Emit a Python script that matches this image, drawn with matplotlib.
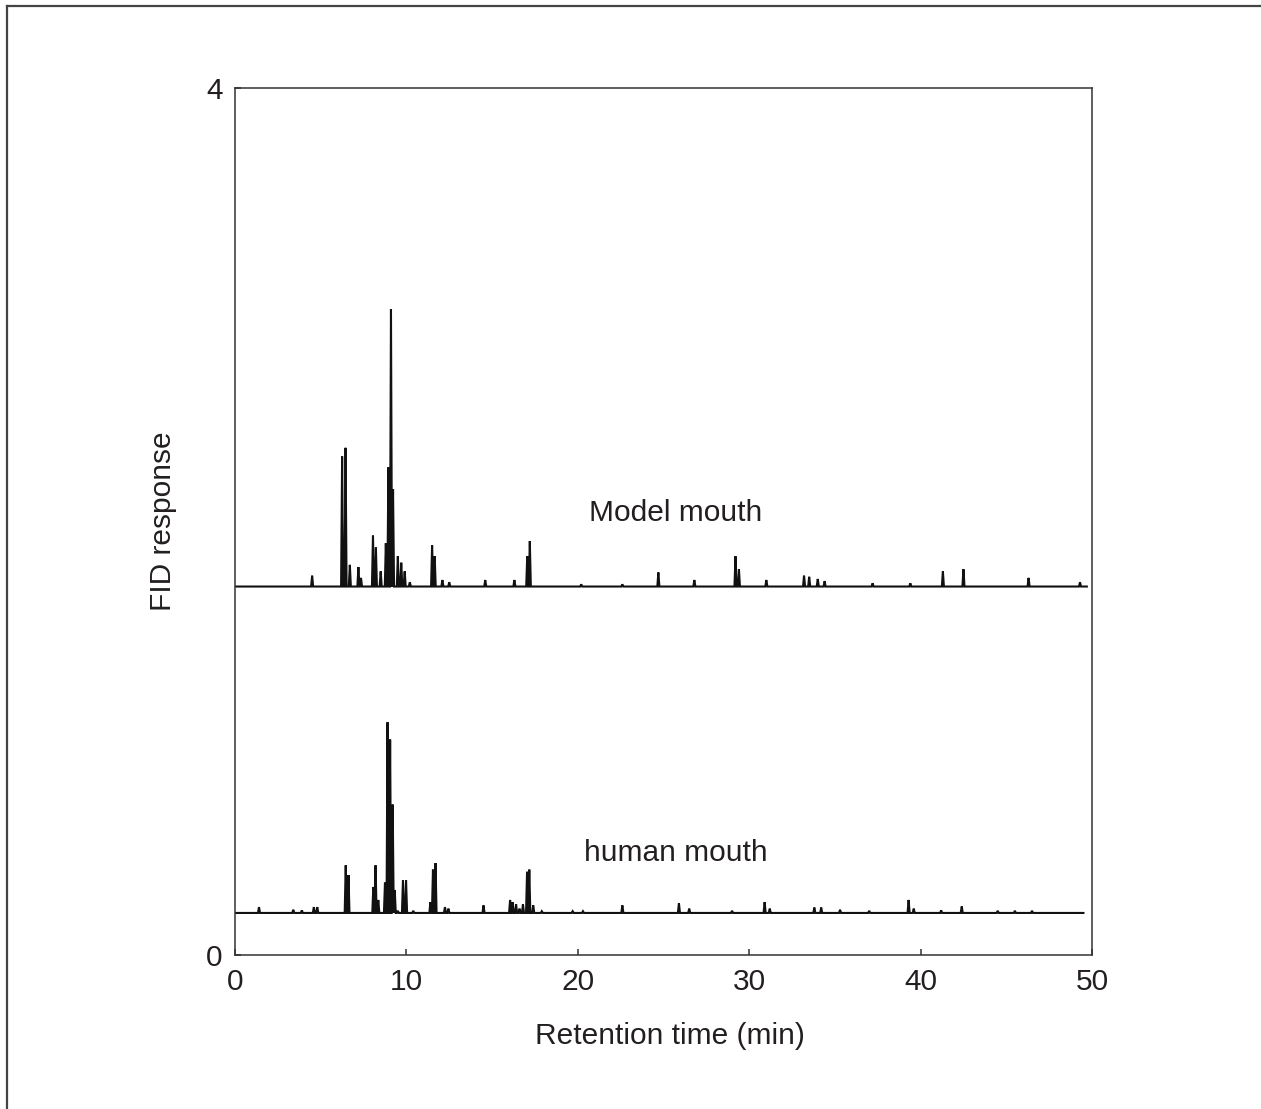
import matplotlib
matplotlib.use('Agg')
import matplotlib.pyplot as plt
from matplotlib.lines import Line2D

# Peak lists (retention time in min, height above baseline)
model_baseline = 1.70
model_times = [4.5, 6.25, 6.45, 6.7, 7.2, 7.35, 8.05, 8.22, 8.5, 8.8, 8.95, 9.1, 9.22,
               9.5, 9.7, 9.9, 10.2, 11.5, 11.65, 12.1, 12.5, 14.6, 16.3, 17.05, 17.2,
               20.2, 22.6, 24.7, 26.8, 29.2, 29.4, 31.0, 33.2, 33.5, 34.0, 34.4, 37.2,
               39.4, 41.3, 42.5, 46.3, 49.3]
model_heights = [0.05, 0.60, 0.64, 0.10, 0.09, 0.04, 0.235, 0.18, 0.07, 0.20, 0.55, 1.28, 0.45,
                 0.14, 0.11, 0.07, 0.02, 0.19, 0.14, 0.03, 0.02, 0.03, 0.03, 0.14, 0.21,
                 0.01, 0.01, 0.065, 0.03, 0.14, 0.08, 0.03, 0.05, 0.045, 0.035, 0.025, 0.015,
                 0.015, 0.07, 0.08, 0.04, 0.02]
model_end = 49.7

human_baseline = 0.194
human_times = [1.4, 3.4, 3.9, 4.6, 4.8, 6.46, 6.62, 8.07, 8.2, 8.36, 8.75, 8.9, 9.05, 9.2,
               9.32, 9.5, 9.8, 9.98, 10.4, 11.4, 11.55, 11.7, 12.25, 12.45, 14.5, 16.05,
               16.2, 16.4, 16.6, 16.8, 17.04, 17.17, 17.4, 17.9, 19.7, 20.3, 22.6, 25.9,
               26.5, 29.0, 30.9, 31.2, 33.8, 34.2, 35.3, 37.0, 39.3, 39.6, 41.2, 42.4,
               44.5, 45.5, 46.5]
human_heights = [0.027, 0.015, 0.012, 0.027, 0.027, 0.22, 0.175, 0.12, 0.22, 0.06, 0.14, 0.88,
                 0.80, 0.50, 0.106, 0.01, 0.15, 0.15, 0.01, 0.05, 0.20, 0.23, 0.027, 0.02,
                 0.035, 0.06, 0.05, 0.04, 0.02, 0.04, 0.19, 0.20, 0.035, 0.008, 0.008, 0.008,
                 0.035, 0.045, 0.02, 0.01, 0.05, 0.02, 0.025, 0.025, 0.015, 0.01, 0.06, 0.02,
                 0.012, 0.03, 0.01, 0.01, 0.01]
human_end = 49.5

labels = ["Model mouth", "human mouth"]
x_ticks = [0, 10, 20, 30, 40, 50]
y_ticks = [0, 4]

TXT = '#231f20'
plt.rcParams['font.family'] = ['Liberation Sans', 'DejaVu Sans']


def build_trace(base, times, heights, t_end, hw=0.06):
    """Turn a peak list into a spiky trace over a flat baseline."""
    xs, ys = [0.0], [base]
    for t, h in zip(times, heights):
        xs += [t - hw, t, t + hw]
        ys += [base, base + h, base]
    xs.append(t_end)
    ys.append(base)
    return xs, ys


fig = plt.figure(figsize=(12.61, 11.09), dpi=100)
ax = fig.add_axes([235 / 1261, 1 - 955 / 1109, 857 / 1261, 867 / 1109])

mx, my = build_trace(model_baseline, model_times, model_heights, model_end)
hx, hy = build_trace(human_baseline, human_times, human_heights, human_end)
ax.plot(mx, my, color='#111111', lw=1.5, solid_joinstyle='miter')
ax.plot(hx, hy, color='#111111', lw=1.5, solid_joinstyle='miter')

ax.text(25.7, 2.04, labels[0], fontsize=21.5, color=TXT, ha='center', va='center')
ax.text(25.7, 0.47, labels[1], fontsize=21.5, color=TXT, ha='center', va='center')

ax.set_xlim(0, 50)
ax.set_ylim(0, 4)
ax.set_xticks(x_ticks)
ax.set_yticks(y_ticks)
ax.tick_params(direction='in', length=4.5, width=1.1, color='#333333',
               labelsize=21.5, labelcolor=TXT, pad=9)
for s in ax.spines.values():
    s.set_color('#333333')
    s.set_linewidth(1.1)

ax.set_xlabel('Retention time (min)', fontsize=21.5, color=TXT)
ax.set_ylabel('FID response', fontsize=21.5, color=TXT)
ax.xaxis.set_label_coords(0.507, -0.077)
ax.yaxis.set_label_coords(-0.068, 0.5)

# outer page frame (top and left edges only)
fig.add_artist(Line2D([7 / 1261, 1], [1 - 6 / 1109, 1 - 6 / 1109], color='#444444', lw=1.6))
fig.add_artist(Line2D([7 / 1261, 7 / 1261], [0, 1 - 6 / 1109], color='#444444', lw=1.6))

fig.savefig('out.png', dpi=100)
